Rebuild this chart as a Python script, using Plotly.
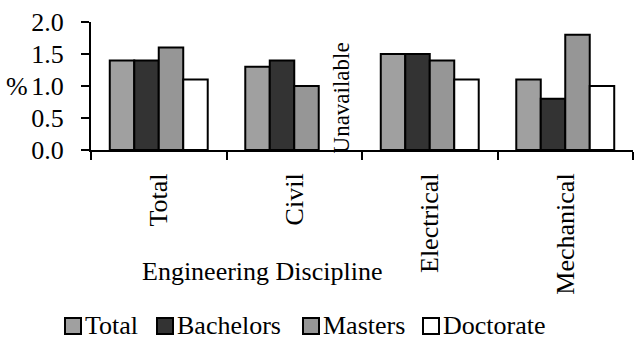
import plotly.graph_objects as go

# Share of graduates (%) by engineering discipline and degree level
disciplines = ["Total", "Civil", "Electrical", "Mechanical"]
series_names = ["Total", "Bachelors", "Masters", "Doctorate"]
total_vals = [1.4, 1.3, 1.5, 1.1]
bachelors_vals = [1.4, 1.4, 1.5, 0.8]
masters_vals = [1.6, 1.0, 1.4, 1.8]
doctorate_vals = [1.1, None, 1.1, 1.0]   # Civil doctorate figure not available
y_ticks = [0.0, 0.5, 1.0, 1.5, 2.0]

series_values = [total_vals, bachelors_vals, masters_vals, doctorate_vals]
fills = ["#a0a0a0", "#333333", "#969696", "#ffffff"]

FONT = "Liberation Serif, Times New Roman, serif"
FS = 26
W, H = 634, 341
M_L, M_R, M_T, M_B = 91, 1, 22, 191
PW, PH = W - M_L - M_R, H - M_T - M_B


def px_x(px):
    return (px - M_L) / PW


def px_y(py):
    return (H - M_B - py) / PH


fig = go.Figure()
for name, vals, col in zip(series_names, series_values, fills):
    fig.add_trace(go.Bar(
        x=disciplines, y=vals, name=name,
        marker=dict(color=col, line=dict(color="#000000", width=2)),
        showlegend=False,
    ))

# Note for the missing Civil / Doctorate bar
fig.add_annotation(
    x=1.352, y=0.82, xref="x", yref="y", text="Unavailable",
    textangle=-90, showarrow=False,
    font=dict(family=FONT, size=23, color="#000000"),
)

# Axis captions
fig.add_annotation(
    x=px_x(262), y=px_y(271), xref="paper", yref="paper",
    text="Engineering Discipline", showarrow=False,
    xanchor="center", yanchor="middle",
    font=dict(family=FONT, size=FS, color="#000000"),
)
fig.add_annotation(
    x=px_x(17), y=1.0, xref="paper", yref="y", text="%",
    showarrow=False, xanchor="center", yanchor="middle",
    font=dict(family=FONT, size=FS, color="#000000"),
)

# Legend row along the bottom
legend_swatch_px = [65, 157, 303, 423]
for name, col, sx in zip(series_names, fills, legend_swatch_px):
    fig.add_shape(
        type="rect", xref="paper", yref="paper",
        x0=px_x(sx), x1=px_x(sx + 16), y0=px_y(334), y1=px_y(318),
        fillcolor=col, line=dict(color="#000000", width=2),
    )
    fig.add_annotation(
        x=px_x(sx + 19), y=px_y(341), xref="paper", yref="paper",
        text=name, showarrow=False, xanchor="left", yanchor="bottom",
        borderpad=0,
        font=dict(family=FONT, size=FS, color="#000000"),
    )

fig.update_layout(
    width=W, height=H,
    margin=dict(l=M_L, r=M_R, t=M_T, b=M_B, pad=0),
    paper_bgcolor="#ffffff", plot_bgcolor="#ffffff",
    barmode="group", bargap=0.277, bargroupgap=0,
    font=dict(family=FONT, size=FS, color="#000000"),
    showlegend=False,
)
fig.update_xaxes(
    type="category", tickangle=-90, tickson="boundaries",
    ticks="outside", ticklen=8, tickwidth=2, tickcolor="#000000",
    showline=True, linecolor="#000000", linewidth=2,
    showgrid=False, zeroline=False, ticklabelstandoff=11,
    tickfont=dict(family=FONT, size=FS, color="#000000"),
)
fig.update_yaxes(
    range=[0, 2.0], tickvals=y_ticks,
    ticktext=[f"{v:.1f}" for v in y_ticks],
    ticks="outside", ticklen=8, tickwidth=2, tickcolor="#000000",
    showline=True, linecolor="#000000", linewidth=2,
    showgrid=False, zeroline=False, ticklabelstandoff=12,
    tickfont=dict(family=FONT, size=FS, color="#000000"),
)

fig.write_html("out.html")
